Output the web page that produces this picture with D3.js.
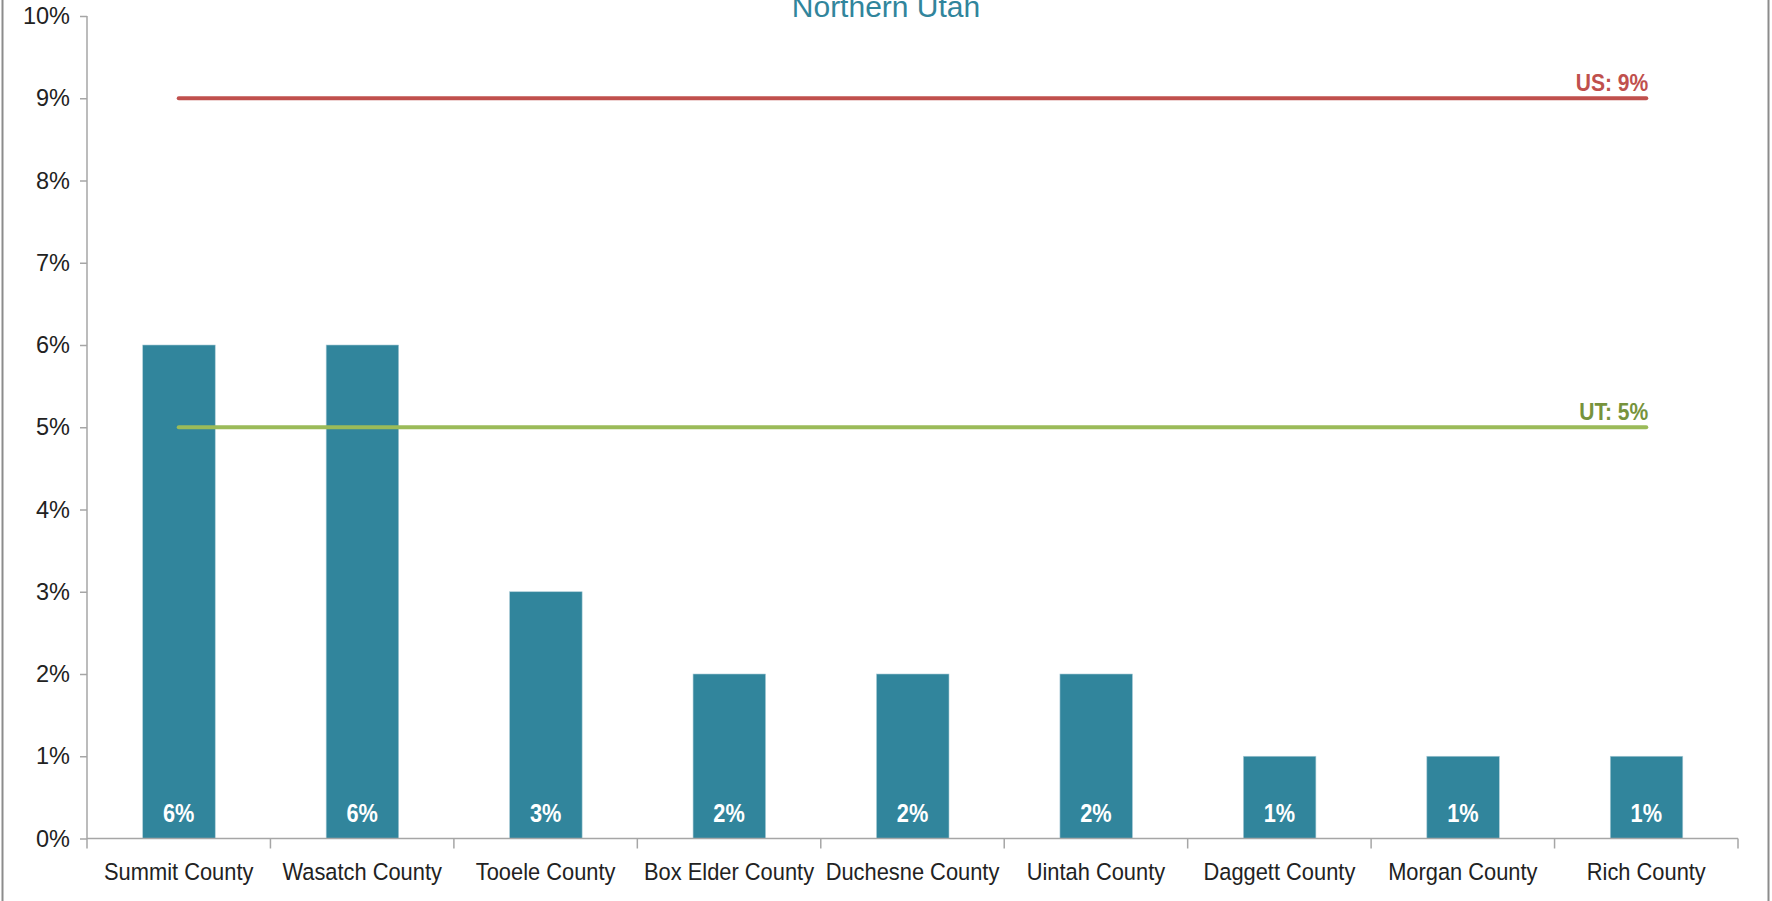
<!DOCTYPE html>
<html><head><meta charset="utf-8">
<script src="https://cdn.jsdelivr.net/npm/d3@7"></script>
<style>body{margin:0;background:#fff;} svg{display:block;}</style>
</head><body>
<svg id="chart" width="1772" height="901"></svg>
<script>
const title = "Northern Utah";
const categories = ["Summit County","Wasatch County","Tooele County","Box Elder County","Duchesne County","Uintah County","Daggett County","Morgan County","Rich County"];
const values = [6,6,3,2,2,2,1,1,1];
const refLines = [{label:"US: 9%", value:9, color:"#C0504D", text:"#C0504D"},{label:"UT: 5%", value:5, color:"#9BBB59", text:"#77933C"}];
const yTicks = [0,1,2,3,4,5,6,7,8,9,10];

const svg = d3.select("#chart");
const W = 1772, H = 901;
const m = {left:87, right:34, top:16, bottom:62.5};
const xb = d3.scaleBand().domain(categories).range([m.left, W - m.right]);
const y = d3.scaleLinear().domain([0,10]).range([H - m.bottom, m.top]);
const axisColor = "#A6A6A6";
const font = "'Liberation Sans', Arial, sans-serif";

// borders
svg.append("line").attr("x1",2.5).attr("x2",2.5).attr("y1",0).attr("y2",H).attr("stroke","#8c8c8c").attr("stroke-width",2);
svg.append("line").attr("x1",1768.5).attr("x2",1768.5).attr("y1",0).attr("y2",H).attr("stroke","#8c8c8c").attr("stroke-width",2);

// title
svg.append("text").attr("x",886).attr("y",17).attr("text-anchor","middle")
  .attr("font-family",font).attr("font-size",30).attr("fill","#31859C").text(title);

// bars
svg.append("g").selectAll("rect").data(values).join("rect")
  .attr("x",(d,i)=>xb(categories[i]) + xb.bandwidth()/2 - 36)
  .attr("width",72.5)
  .attr("y",d=>y(d)).attr("height",d=>y(0)-y(d))
  .attr("fill","#31859C").attr("stroke","#a9cbd6").attr("stroke-width",0.6);

// data labels
svg.append("g").selectAll("text").data(values).join("text")
  .attr("transform",(d,i)=>`translate(${xb(categories[i]) + xb.bandwidth()/2},${y(0)-16.5}) scale(0.87,1)`)
  .attr("text-anchor","middle").attr("font-family",font).attr("font-weight","bold")
  .attr("font-size",25).attr("fill","#fff").text(d=>d+"%");

// y axis
const yAxis = svg.append("g").attr("transform",`translate(${m.left},0)`)
  .call(d3.axisLeft(y).tickValues(yTicks).tickFormat(d=>d+"%").tickSize(7).tickPadding(10));
yAxis.select(".domain").attr("stroke",axisColor).attr("stroke-width",1.5).attr("d",`M0,${y(10)}V${y(0)+10}`);
yAxis.selectAll(".tick line").attr("stroke",axisColor).attr("stroke-width",1.5);
yAxis.selectAll(".tick text").attr("font-family",font).attr("font-size",23.5).attr("fill","#222");

// x axis
const xAxis = svg.append("g").attr("transform",`translate(0,${y(0)})`)
  .call(d3.axisBottom(xb).tickSize(0).tickPadding(0));
xAxis.select(".domain").attr("stroke",axisColor).attr("stroke-width",1.5).attr("d",`M${m.left},0H${W-m.right}`);
xAxis.selectAll(".tick text").attr("y",null).attr("dy",null)
  .attr("transform","translate(0,41) scale(0.93,1)")
  .attr("font-family",font).attr("font-size",23.5).attr("fill","#222");
svg.append("g").selectAll("line").data(categories).join("line")
  .attr("x1",d=>xb(d)+xb.bandwidth()).attr("x2",d=>xb(d)+xb.bandwidth())
  .attr("y1",y(0)).attr("y2",y(0)+10).attr("stroke",axisColor).attr("stroke-width",1.5);

// reference lines
const first = xb(categories[0]) + xb.bandwidth()/2, last = xb(categories[categories.length-1]) + xb.bandwidth()/2;
refLines.forEach(r=>{
  svg.append("line").attr("x1",first).attr("x2",last).attr("y1",y(r.value)).attr("y2",y(r.value))
    .attr("stroke",r.color).attr("stroke-width",4).attr("stroke-linecap","round");
  svg.append("text").attr("transform",`translate(${last+2},${y(r.value)-7}) scale(0.86,1)`)
    .attr("text-anchor","end").attr("font-family",font).attr("font-weight","bold").attr("font-size",24.5)
    .attr("fill",r.text).text(r.label);
});
</script>
</body></html>
